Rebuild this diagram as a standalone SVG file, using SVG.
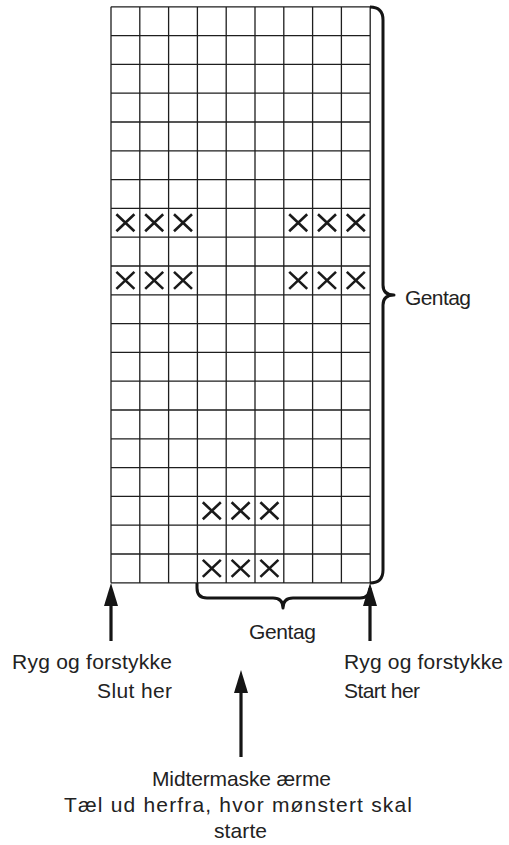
<svg xmlns="http://www.w3.org/2000/svg" xmlns:xlink="http://www.w3.org/1999/xlink" width="509" height="845" viewBox="0 0 509 845">
<style>
.grid{fill:none;stroke:#1e1e1e;stroke-width:1.3}
.xm{fill:none;stroke:#1a1a1a;stroke-width:2.6;stroke-linecap:butt}
.brace{fill:none;stroke:#151515;stroke-width:3;stroke-linejoin:round}
.shaft{fill:none;stroke:#151515;stroke-width:3.2}
.lbl{font-family:"Liberation Sans",Arial,sans-serif;font-size:21px;fill:#222}
</style>
<defs>
<path id="x" class="xm" d="M-9,-8.5 L9,8.5 M-9,8.5 L9,-8.5"/>
<marker id="ah" viewBox="0 0 23 14" refX="11" refY="7" markerWidth="23" markerHeight="14" markerUnits="userSpaceOnUse" orient="auto">
<path d="M0,0 L23,7 L0,14 z" fill="#151515"/>
</marker>
</defs>
<rect width="509" height="845" fill="#fff"/>
<g id="chart">
<rect x="111" y="6.8" width="259.2" height="576" fill="#fff"/>
<path class="grid" d="M111 6.8V582.8M139.8 6.8V582.8M168.6 6.8V582.8M197.4 6.8V582.8M226.2 6.8V582.8M255 6.8V582.8M283.8 6.8V582.8M312.6 6.8V582.8M341.4 6.8V582.8M370.2 6.8V582.8
M111 6.8H370.2M111 35.6H370.2M111 64.4H370.2M111 93.2H370.2M111 122H370.2M111 150.8H370.2M111 179.6H370.2M111 208.4H370.2M111 237.2H370.2M111 266H370.2M111 294.8H370.2M111 323.6H370.2M111 352.4H370.2M111 381.2H370.2M111 410H370.2M111 438.8H370.2M111 467.6H370.2M111 496.4H370.2M111 525.2H370.2M111 554H370.2M111 582.8H370.2"/>
<g id="marks">
<use xlink:href="#x" x="125.4" y="222.8"/><use xlink:href="#x" x="154.2" y="222.8"/><use xlink:href="#x" x="183" y="222.8"/>
<use xlink:href="#x" x="298.2" y="222.8"/><use xlink:href="#x" x="327" y="222.8"/><use xlink:href="#x" x="355.8" y="222.8"/>
<use xlink:href="#x" x="125.4" y="280.4"/><use xlink:href="#x" x="154.2" y="280.4"/><use xlink:href="#x" x="183" y="280.4"/>
<use xlink:href="#x" x="298.2" y="280.4"/><use xlink:href="#x" x="327" y="280.4"/><use xlink:href="#x" x="355.8" y="280.4"/>
<use xlink:href="#x" x="211.8" y="510.8"/><use xlink:href="#x" x="240.6" y="510.8"/><use xlink:href="#x" x="269.4" y="510.8"/>
<use xlink:href="#x" x="211.8" y="568.4"/><use xlink:href="#x" x="240.6" y="568.4"/><use xlink:href="#x" x="269.4" y="568.4"/>
</g>
</g>
<g id="connectors">
<path class="brace" d="M370,7 Q383,7 383,20 L383,285 Q383,295 394,295 Q383,295 383,305 L383,570 Q383,583 370,583"/>
<path class="brace" d="M197,583 L197,588 Q197,598 207,598 L273,598 Q283,598 283,608 Q283,598 293,598 L360,598 Q370,598 370,588"/>
<line class="shaft" x1="111" y1="641" x2="111" y2="595" marker-end="url(#ah)"/>
<line class="shaft" x1="370" y1="641" x2="370" y2="595" marker-end="url(#ah)"/>
<line class="shaft" x1="241" y1="757" x2="241" y2="682" marker-end="url(#ah)"/>
</g>
<g id="label-gentag-right"><text class="lbl" x="405" y="305" textLength="66">Gentag</text></g>
<g id="label-gentag-bottom"><text class="lbl" x="249" y="639" textLength="67">Gentag</text></g>
<g id="label-slut"><text class="lbl" x="12" y="669" textLength="160">Ryg og forstykke</text><text class="lbl" x="97" y="698" textLength="75">Slut her</text></g>
<g id="label-start"><text class="lbl" x="344" y="669" textLength="159">Ryg og forstykke</text><text class="lbl" x="344" y="698" textLength="76">Start her</text></g>
<g id="label-midt"><text class="lbl" x="152" y="786" textLength="179">Midtermaske ærme</text><text class="lbl" x="64" y="812" textLength="348">Tæl ud herfra, hvor mønstert skal</text><text class="lbl" x="214" y="838" textLength="53">starte</text></g>
</svg>
